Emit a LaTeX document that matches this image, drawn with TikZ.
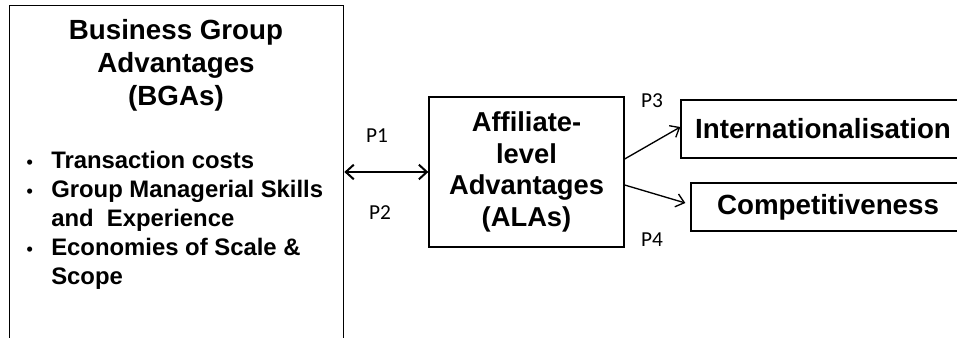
\documentclass[tikz,border=0pt]{standalone}
\usepackage{fontspec}
\setmainfont{Liberation Sans}
\newfontfamily\calibrifont{Carlito}
\usetikzlibrary{arrows.meta,positioning}

\tikzset{
  frame/.style={draw, line width=1pt, inner sep=0pt},
  heading/.style={font=\bfseries\fontsize{20.8}{24.75}\selectfont, align=center, inner sep=0pt},
  points/.style={font=\bfseries\fontsize{17.9}{21.75}\selectfont, align=left, inner sep=0pt},
  plabel/.style={font=\calibrifont\fontsize{16}{19}\selectfont, inner sep=0pt},
  link/.style={line width=1pt, -{Straight Barb[length=6pt,width=10pt]}},
}
\newcommand{\bul}{\makebox[19.5pt][l]{\hspace*{1pt}\scalebox{0.75}{\textbullet}}}

\begin{document}
\begin{tikzpicture}[x=0.75pt, y=-0.75pt]
\clip (0,0) rectangle (957,338);
% business group box, open at the bottom
\node[frame, anchor=north west, minimum width=250.5pt, minimum height=262pt] (bga) at (9,5) {};
\node[heading, anchor=base] (bgatitle) at (176,106) {Business Group\\Advantages\\(BGAs)};
\node[points, anchor=base west] (bgalist) at (25,285) {%
\bul Transaction costs\\
\bul Group Managerial Skills\\
\hspace*{19.5pt}and~ Experience\\
\bul Economies of Scale \&\\
\hspace*{19.5pt}Scope};
% affiliate box and outcomes
\node[frame, heading, font=\bfseries\fontsize{20.5}{23.8}\selectfont, minimum width=146.25pt, minimum height=112.5pt] (ala) at (526.5,172) {Affiliate-\\level\\Advantages\\(ALAs)};
\node[frame, heading, minimum width=213pt, minimum height=43.5pt] (intl) at (823,129) {Internationalisation};
\node[frame, heading, minimum width=205.5pt, minimum height=36pt] (comp) at (828,207) {Competitiveness};
% links
\draw[line width=1.5pt, {Straight Barb[length=6pt,width=11pt]}-{Straight Barb[length=6pt,width=11pt]}] (ala.west -| bga.east) -- (ala.west);
\draw[link] ([yshift=9.75pt]ala.east) -- ([yshift=1.5pt]intl.west);
\draw[link] ([yshift=-9.75pt]ala.east) -- ([xshift=-3.75pt,yshift=3pt]comp.west);
\node[plabel] (p1) at (377,136) {P1};
\node[plabel] (p2) at (380,213) {P2};
\node[plabel] (p3) at (652,101) {P3};
\node[plabel] (p4) at (652,240) {P4};
\end{tikzpicture}
\end{document}
